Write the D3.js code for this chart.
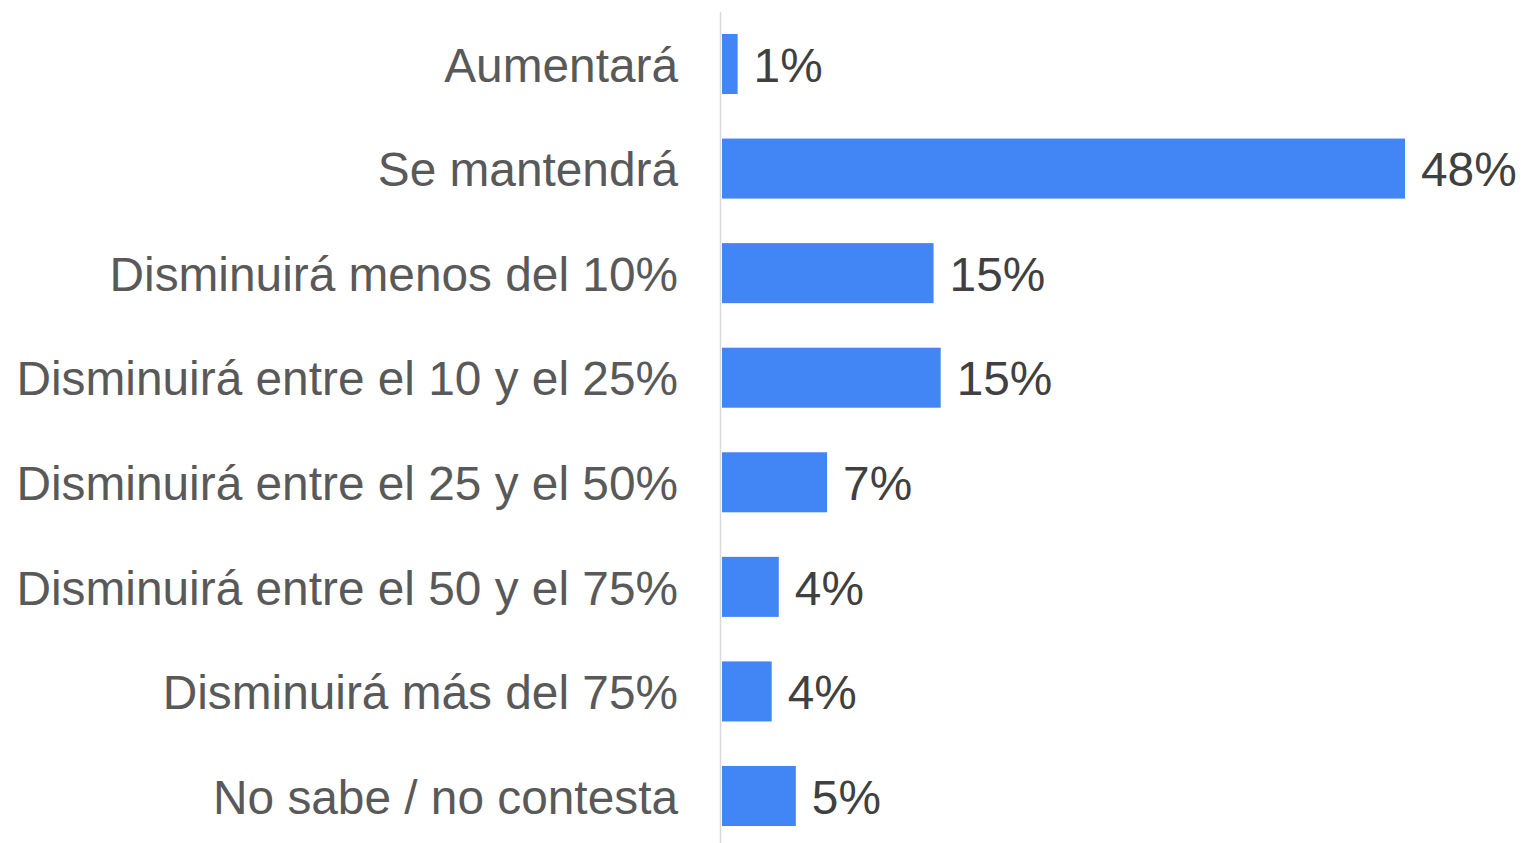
<!DOCTYPE html>
<html>
<head>
<meta charset="utf-8">
<script src="https://cdn.jsdelivr.net/npm/d3@7"></script>
<style>
  body { margin:0; background:#fff; }
  svg { display:block; }
  text { font-family: "Liberation Sans", Arial, sans-serif; }
</style>
</head>
<body>
<svg></svg>
<script>
// answers (top to bottom) and share of respondents, %
var categories = ["Aumentará", "Se mantendrá", "Disminuirá menos del 10%",
  "Disminuirá entre el 10 y el 25%", "Disminuirá entre el 25 y el 50%",
  "Disminuirá entre el 50 y el 75%", "Disminuirá más del 75%", "No sabe / no contesta"]
var values = [1.1, 48.1, 14.9, 15.4, 7.4, 4.0, 3.5, 5.2]

var screen = {width:1522, height:843}

var svg = d3.select("svg")
  .attr("width", screen.width)
  .attr("height", screen.height)

var xScale = d3.scaleLinear()
  .domain([0, 50])
  .range([722, 1432])

var yScale = d3.scaleBand()
  .domain(categories)
  .range([11.7, 848.3])
  .paddingInner(0.426)
  .paddingOuter(0.213)

var rows = categories.map(function(c, i) { return {cat:c, val:values[i]} })

svg.append("g")
  .selectAll("rect")
  .data(rows)
  .enter()
  .append("rect")
  .attr("x", xScale(0))
  .attr("y", function(d) { return yScale(d.cat) })
  .attr("width", function(d) { return xScale(d.val) - xScale(0) })
  .attr("height", yScale.bandwidth())
  .attr("fill", "#4285f4")

// category axis line
svg.append("line")
  .attr("x1", 720.5).attr("x2", 720.5)
  .attr("y1", 12).attr("y2", 843)
  .attr("stroke", "#d9d9d9")
  .attr("stroke-width", 1.5)

svg.append("g")
  .selectAll("text")
  .data(rows)
  .enter()
  .append("text")
  .attr("x", 678)
  .attr("y", function(d) { return yScale(d.cat) + yScale.bandwidth()/2 })
  .attr("dy", "0.37em")
  .attr("text-anchor", "end")
  .attr("font-size", 47.8)
  .attr("fill", "#595959")
  .text(function(d) { return d.cat })

svg.append("g")
  .selectAll("text")
  .data(rows)
  .enter()
  .append("text")
  .attr("x", function(d) { return xScale(d.val) + 16 })
  .attr("y", function(d) { return yScale(d.cat) + yScale.bandwidth()/2 })
  .attr("dy", "0.37em")
  .attr("font-size", 47.8)
  .attr("fill", "#404040")
  .text(function(d) { return Math.round(d.val) + "%" })
</script>
</body>
</html>
